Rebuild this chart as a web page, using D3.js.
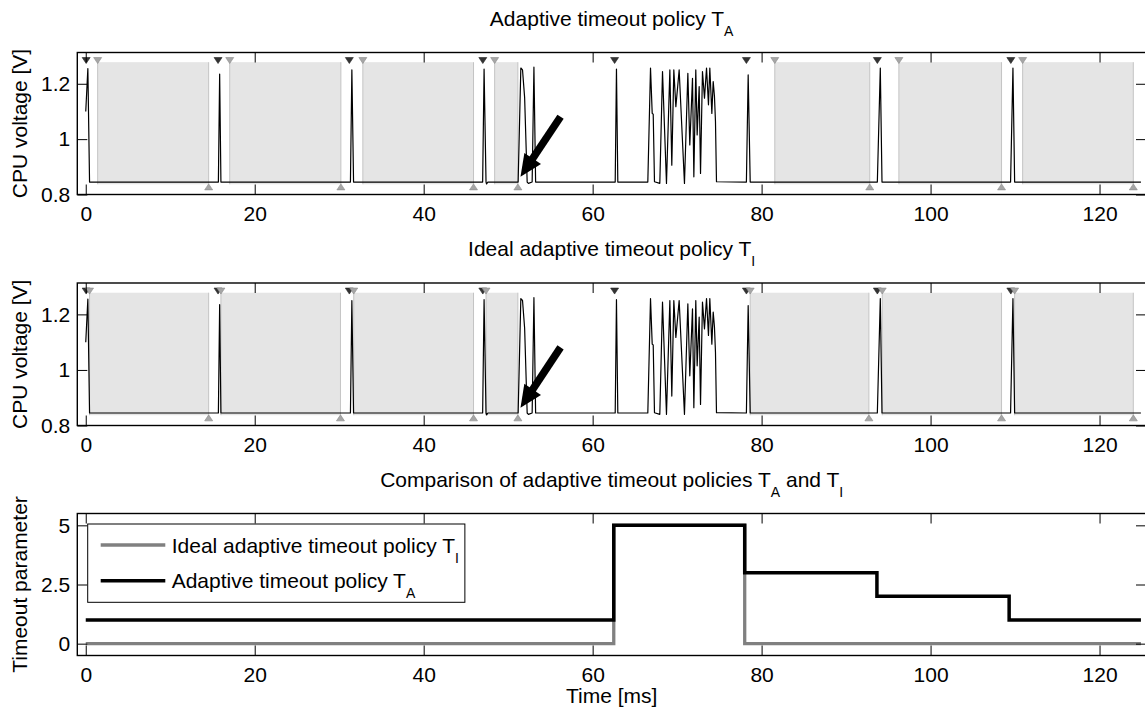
<!DOCTYPE html>
<html><head><meta charset="utf-8">
<script src="https://cdn.jsdelivr.net/npm/d3@7"></script>
<style>
body{margin:0;background:#fff}
text{font-family:"Liberation Sans",Arial,Helvetica,sans-serif;fill:#000}
</style>
</head><body>
<svg id="chart" width="1145" height="711"></svg>
<script>
// ---------- data ----------
const xTicks = [0, 20, 40, 60, 80, 100, 120];
const voltTicks = [0.8, 1, 1.2];
const timeoutTicks = [0, 2.5, 5];

// CPU voltage trace (time ms, voltage V)
const sigT = [0, 0.25, 0.45,
  15.7, 15.85, 16.0,
  31.33, 31.5, 31.7,
  46.98, 47.15, 47.38, 47.45, 47.6,
  51.18, 51.5, 51.7, 51.95, 52.25, 52.4, 52.84, 53.05, 53.25,
  62.67, 62.82, 62.98,
  66.53, 66.85, 67.05, 67.17, 67.32, 67.95, 68.27, 68.74, 69.14, 69.37, 69.61, 69.85, 70.24, 70.87,
  71.27, 71.5, 71.82, 71.98, 72.21, 72.37, 72.61, 72.77, 73.0, 73.24, 73.48, 73.71, 73.87, 74.11,
  74.27, 74.42, 74.54, 74.66,
  78.2, 78.41, 78.65,
  93.7, 94.05, 94.25,
  109.47, 109.75, 109.95,
  124.9];
const sigV = [1.10, 1.255, 0.845,
  0.845, 1.235, 0.845,
  0.845, 1.25, 0.845,
  0.845, 1.253, 0.845, 0.838, 0.845,
  0.845, 1.257, 1.25, 1.15, 0.845, 0.84, 0.845, 1.26, 0.845,
  0.845, 1.253, 0.845,
  0.845, 1.257, 1.093, 1.09, 0.846, 0.84, 1.244, 0.84, 1.25, 0.906, 1.25, 1.117, 1.25, 0.84,
  1.238, 0.979, 1.22, 0.864, 1.25, 1.015, 1.19, 0.876, 1.244, 1.148, 1.257, 1.124, 1.257, 1.093,
  1.208, 1.154, 1.063, 0.846,
  0.845, 1.232, 0.845,
  0.845, 1.257, 0.845,
  0.845, 1.257, 0.845,
  0.845];

// Adaptive policy T_A events
const busyStartA   = [0.05, 15.66, 31.2, 47.0, 62.6, 78.2, 93.7, 109.5];
const sleepStartA  = [1.41, 17.04, 32.8, 48.4, 81.56, 96.25, 110.9];
const sleepEndA    = [14.55, 30.2, 45.9, 51.15, 92.8, 108.4, 124.0];
// Ideal policy T_I events
const busyStartI   = [0.05, 15.66, 31.2, 47.0, 62.6, 78.2, 93.7, 109.5];
const sleepStartI  = [0.45, 16.0, 31.72, 47.38, 78.65, 94.28, 109.95];
const sleepEndI    = [14.55, 30.15, 45.9, 51.15, 92.7, 108.4, 124.0];

// timeout parameter step series
const stepTA = [0, 62.5, 78.0, 93.65, 109.3, 124.9];
const valTA  = [1, 5, 3, 2, 1, 1];
const stepTI = [0, 62.5, 78.0, 124.9];
const valTI  = [0, 5, 0, 0];

// annotation arrow (tail -> tip), data coords
const arrowFrom = [56.2, 1.081];
const arrowTo   = [51.46, 0.864];

// ---------- layout ----------
const svg = d3.select("#chart");
const L = 77.3, R = 1146;
const FS = 21, SUB = 14, SUBDY = 10;
const x = d3.scaleLinear().domain([-1, 125.5]).range([L, R]);

const rectTopV = 1.278, rectBotV = 0.837, downTriV = 1.284, upTriV = 0.8275;

function richText(g, px, py, parts, anchor) {
  const t = g.append("text").attr("x", px).attr("y", py)
    .attr("text-anchor", anchor || "middle").style("font-size", FS + "px");
  let low = false;
  parts.forEach(([s, sub]) => {
    const sp = t.append("tspan").text(s);
    if (sub && !low) { sp.attr("dy", SUBDY).style("font-size", SUB + "px"); low = true; }
    else if (sub) { sp.style("font-size", SUB + "px"); }
    else if (!sub && low) { sp.attr("dy", -SUBDY); low = false; }
  });
  return t;
}

function frame(g, y, top, bottom, yTicks, yLabel) {
  const tick = 10;
  g.append("g").attr("transform", `translate(0,${bottom})`)
    .call(d3.axisBottom(x).tickValues(xTicks).tickSizeInner(-tick).tickSizeOuter(0).tickPadding(11.5))
    .call(a => { a.select(".domain").remove(); a.selectAll("text").style("font-size", FS + "px").attr("fill", "#000"); });
  g.append("g").attr("transform", `translate(0,${top})`)
    .call(d3.axisTop(x).tickValues(xTicks).tickSizeInner(-tick).tickSizeOuter(0).tickFormat(""))
    .call(a => a.select(".domain").remove());
  g.append("g").attr("transform", `translate(${L},0)`)
    .call(d3.axisLeft(y).tickValues(yTicks).tickSizeInner(-tick).tickSizeOuter(0).tickPadding(7).tickFormat(d3.format("")))
    .call(a => { a.select(".domain").remove(); a.selectAll("text").style("font-size", FS + "px").attr("fill", "#000"); });
  g.append("g").attr("transform", `translate(${R},0)`)
    .call(d3.axisRight(y).tickValues(yTicks).tickSizeInner(-tick).tickSizeOuter(0).tickFormat(""))
    .call(a => a.select(".domain").remove());
  g.selectAll(".tick line").attr("stroke", "#000").attr("stroke-width", 1);
  g.append("rect").attr("x", L).attr("y", top).attr("width", R - L).attr("height", bottom - top)
    .attr("fill", "none").attr("stroke", "#000").attr("stroke-width", 1.4);
  g.append("text").attr("transform", `translate(27,${(top + bottom) / 2}) rotate(-90)`)
    .attr("text-anchor", "middle").style("font-size", FS + "px").text(yLabel);
}

function triPath(cx, cy, down) {
  const w = 4, h = 3;
  const p = d3.path();
  if (down) { p.moveTo(cx - w, cy - h); p.lineTo(cx + w, cy - h); p.lineTo(cx, cy + h); }
  else { p.moveTo(cx - w, cy + h); p.lineTo(cx + w, cy + h); p.lineTo(cx, cy - h); }
  p.closePath();
  return p.toString();
}

function voltagePanel(top, bottom, busy, sStart, sEnd, titleParts) {
  const g = svg.append("g");
  const y = d3.scaleLinear().domain([0.8, 1.313]).range([bottom, top]);
  // sleep rectangles
  const rects = sStart.map((s, i) => [s, sEnd[i]]);
  g.selectAll(".sl").data(rects).join("rect")
    .attr("x", d => x(d[0])).attr("width", d => x(d[1]) - x(d[0]))
    .attr("y", y(rectTopV)).attr("height", y(rectBotV) - y(rectTopV))
    .attr("fill", "#e5e5e5");
  g.selectAll(".sll").data(rects.flat()).join("line")
    .attr("x1", d => x(d)).attr("x2", d => x(d))
    .attr("y1", y(rectTopV)).attr("y2", y(rectBotV))
    .attr("stroke", "#c4c4c4").attr("stroke-width", 1);
  // signal
  const pts = sigT.map((t, i) => [t, sigV[i]]);
  g.append("path").datum(pts)
    .attr("d", d3.line().x(d => x(d[0])).y(d => y(d[1])))
    .attr("fill", "none").attr("stroke", "#000").attr("stroke-width", 1.2).attr("stroke-linejoin", "round");
  // markers
  g.selectAll(".bs").data(busy).join("path")
    .attr("d", d => triPath(x(d), y(downTriV), true)).attr("fill", "#333").attr("stroke", "#222").attr("stroke-width", 0.6);
  g.selectAll(".ss").data(sStart).join("path")
    .attr("d", d => triPath(x(d), y(downTriV), true)).attr("fill", "#a6a6a6").attr("stroke", "#8a8a8a").attr("stroke-width", 0.6);
  g.selectAll(".se").data(sEnd).join("path")
    .attr("d", d => triPath(x(d), y(upTriV), false)).attr("fill", "#a6a6a6").attr("stroke", "#8a8a8a").attr("stroke-width", 0.6);
  // arrow
  const x0 = x(arrowFrom[0]), y0 = y(arrowFrom[1]), x1 = x(arrowTo[0]), y1 = y(arrowTo[1]);
  const dx = x1 - x0, dy = y1 - y0, len = Math.hypot(dx, dy), ux = dx / len, uy = dy / len;
  const headL = 22, headW = 10;
  const bx = x1 - ux * headL, by = y1 - uy * headL;
  g.append("line").attr("x1", x0).attr("y1", y0).attr("x2", bx + ux * 2).attr("y2", by + uy * 2)
    .attr("stroke", "#000").attr("stroke-width", 7.5);
  g.append("path").attr("d", `M${x1},${y1}L${bx - uy * headW},${by + ux * headW}L${bx + uy * headW},${by - ux * headW}Z`)
    .attr("fill", "#000");
  frame(g, y, top, bottom, voltTicks, "CPU voltage [V]");
  richText(g, (L + R) / 2, top - 27, titleParts);
}

voltagePanel(52.5, 194.5, busyStartA, sleepStartA, sleepEndA,
  [["Adaptive timeout policy T", false], ["A", true]]);
voltagePanel(283, 425.5, busyStartI, sleepStartI, sleepEndI,
  [["Ideal adaptive timeout policy T", false], ["I", true]]);

// bottom panel
(function () {
  const top = 513.5, bottom = 655.5;
  const g = svg.append("g");
  const y = d3.scaleLinear().domain([-0.5, 5.5]).range([bottom, top]);
  const line = d3.line().x(d => x(d[0])).y(d => y(d[1])).curve(d3.curveStepAfter);
  g.append("path").datum(stepTI.map((t, i) => [t, valTI[i]]))
    .attr("d", line).attr("fill", "none").attr("stroke", "#808080").attr("stroke-width", 3.3);
  g.append("path").datum(stepTA.map((t, i) => [t, valTA[i]]))
    .attr("d", line).attr("fill", "none").attr("stroke", "#000").attr("stroke-width", 3.5);
  frame(g, y, top, bottom, timeoutTicks, "Timeout parameter");
  richText(g, (L + R) / 2, top - 27,
    [["Comparison of adaptive timeout policies T", false], ["A", true], [" and T", false], ["I", true]]);
  g.append("text").attr("x", (L + R) / 2).attr("y", 703).attr("text-anchor", "middle")
    .style("font-size", FS + "px").text("Time [ms]");
  // legend
  const lg = g.append("g");
  const box = lg.append("rect").attr("fill", "#fff").attr("stroke", "#000").attr("stroke-width", 1);
  const items = [["Ideal adaptive timeout policy T", "I", "#808080", 3.3], ["Adaptive timeout policy T", "A", "#000", 3.5]];
  const rowY = [545, 580.7];
  const tg = lg.append("g");
  items.forEach((it, i) => {
    lg.append("line").attr("x1", 100.7).attr("x2", 165.3).attr("y1", rowY[i]).attr("y2", rowY[i])
      .attr("stroke", it[2]).attr("stroke-width", it[3]);
    richText(tg, 171.7, rowY[i] + 7.5, [[it[0], false], [it[1], true]], "start");
  });
  const bb = tg.node().getBBox();
  box.attr("x", 87.7).attr("y", 524).attr("width", bb.x + bb.width + 6 - 87.7).attr("height", 602.3 - 524);
})();
</script>
</body></html>
